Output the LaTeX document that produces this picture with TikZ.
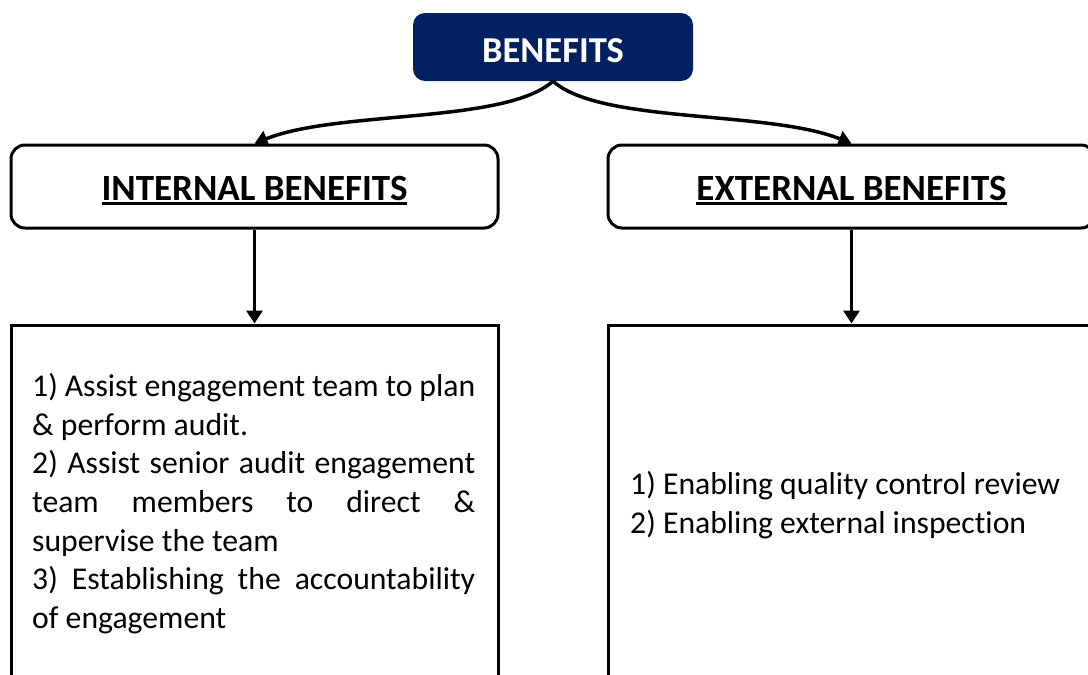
\documentclass[tikz,border=0pt]{standalone}
\usepackage{fontspec}
\setmainfont{Carlito}[Ligatures={NoCommon}]
\usetikzlibrary{arrows.meta}
\definecolor{navy}{HTML}{002060}
\newcommand{\thickul}[1]{\setbox0\hbox{#1}\makebox[0pt][l]{\rule[-4.6pt]{\wd0}{2.6pt}}\box0}
\hbadness=10000
\begin{document}
\begin{tikzpicture}[x=1pt,y=-1pt,
  conn/.style={line width=3.5pt, -{Triangle[length=13pt,width=16pt]}},
  headbox/.style={draw, line width=3pt, rounded corners=14pt, minimum width=487pt,
    minimum height=83pt, inner sep=0pt, text height=27pt, text depth=0pt,
    font=\fontsize{37}{44}\selectfont\bfseries},
  listbox/.style={draw, line width=3pt, minimum width=487pt, minimum height=375pt, inner sep=0pt},
  bodytext/.style={inner sep=0pt, font=\fontsize{31.7}{38.7}\selectfont}
]
\useasboundingbox (0,0) rectangle (1088,675);
\clip (0,0) rectangle (1088,675);
\node[fill=navy, rounded corners=12pt, minimum width=280pt, minimum height=68pt, inner sep=0pt,
  text=white, text height=31pt, text depth=0pt, font=\fontsize{36.5}{40}\selectfont\bfseries] (top) at (553,47) {BENEFITS};
\node[headbox] (int) at (254.5,186.5) {\thickul{INTERNAL BENEFITS}};
\node[headbox] (ext) at (851.5,186.5) {\thickul{EXTERNAL BENEFITS}};
\node[listbox] (intlist) at (254.5,512.5) {};
\node[listbox] (extlist) at (851.5,512.5) {};
\node[bodytext, anchor=north west, text width=443pt, align=justify] (inttext) at (32,373)
  {\parindent=0pt 1) Assist engagement team to plan\linebreak \& perform audit.\par
   2) Assist senior audit engagement\linebreak team members to direct \&\linebreak supervise the team\par
   3) Establishing the accountability\linebreak of engagement};
\node[bodytext, anchor=north west, align=left] (exttext) at (630,471)
  {1) Enabling quality control review\\2) Enabling external inspection};
\draw[conn] (top.south) .. controls (505,124) and (338,110) .. (int.north);
\draw[conn] (top.south) .. controls (601,124) and (768,110) .. (ext.north);
\draw[conn] (int) -- (intlist);
\draw[conn] (ext) -- (extlist);
\end{tikzpicture}
\end{document}
